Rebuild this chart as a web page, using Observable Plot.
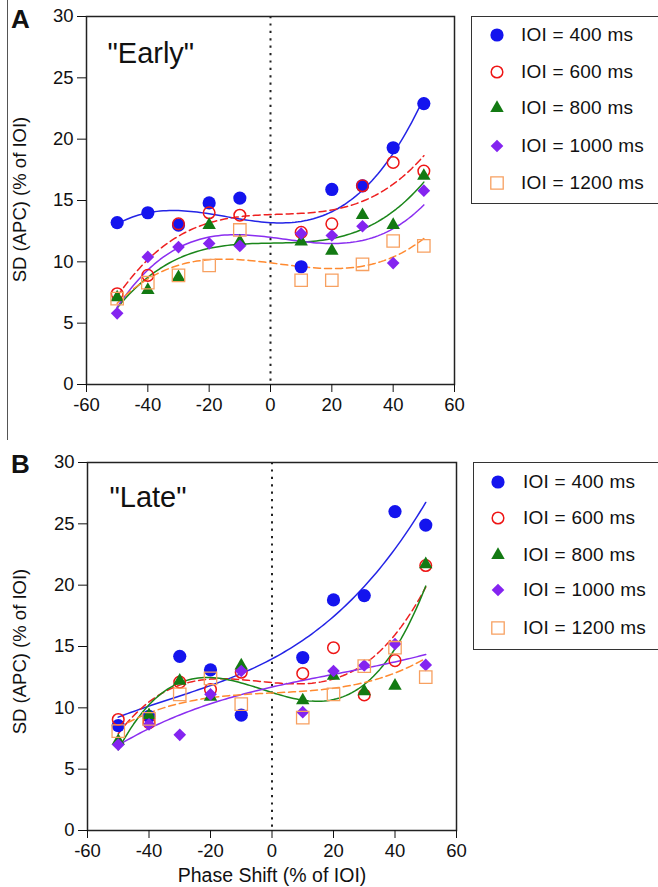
<!DOCTYPE html>
<html><head><meta charset="utf-8">
<script src="https://cdn.jsdelivr.net/npm/d3@7"></script>
<script src="https://cdn.jsdelivr.net/npm/@observablehq/plot@0.6"></script>
<style>
body{margin:0;background:#fff;font-family:"Liberation Sans",Arial,Helvetica,sans-serif;}
#page{position:relative;width:658px;height:887px;overflow:hidden;background:#fff;}
.panel{position:absolute;left:0;}
.letter{position:absolute;font-weight:bold;font-size:26px;color:#111;}
.legend{position:absolute;border:1.5px solid #333;background:#fff;box-sizing:border-box;}
.row{position:absolute;left:0;height:0;}
.row svg{position:absolute;overflow:visible;}
.row span{position:absolute;white-space:nowrap;font-size:19px;letter-spacing:0.25px;color:#111;transform:translateY(-52%);}
#sep{position:absolute;left:7px;top:0;width:1px;height:440px;background:#555;}
</style></head>
<body><div id="page"><div id="sep"></div></div>
<script>
// ---------- data ----------
const phaseShift = [-50, -40, -30, -20, -10, 10, 20, 30, 40, 50];
const ioiLabels = ["IOI = 400 ms", "IOI = 600 ms", "IOI = 800 ms", "IOI = 1000 ms", "IOI = 1200 ms"];
const xTicks = [-60, -40, -20, 0, 20, 40, 60];
const yTicks = [0, 5, 10, 15, 20, 25, 30];

// "Early" panel (A)
const earlyIOI400  = [13.2, 14.0, 13.0, 14.8, 15.2, 9.6, 15.9, 16.2, 19.3, 22.9];
const earlyIOI600  = [7.4, 8.9, 13.1, 14.0, 13.8, 12.4, 13.1, 16.2, 18.1, 17.4];
const earlyIOI800  = [7.1, 7.7, 8.75, 13.0, 11.65, 11.65, 10.9, 13.8, 13.0, 17.0];
const earlyIOI1000 = [5.8, 10.4, 11.2, 11.5, 11.3, 12.3, 12.15, 12.9, 9.9, 15.8];
const earlyIOI1200 = [7.0, 8.3, 8.9, 9.7, 12.6, 8.5, 8.5, 9.8, 11.7, 11.3];

// "Late" panel (B)
const lateIOI400  = [8.55, 9.3, 14.2, 13.1, 9.4, 14.1, 18.8, 19.15, 26.0, 24.9];
const lateIOI600  = [9.05, 8.8, 12.1, 11.5, 12.9, 12.8, 14.9, 11.05, 13.85, 21.6];
const lateIOI800  = [7.3, 9.4, 12.2, 10.9, 13.45, 10.6, 12.6, 11.35, 11.8, 21.7];
const lateIOI1000 = [7.0, 8.65, 7.8, 11.1, 13.0, 9.65, 13.0, 13.45, 15.2, 13.5];
const lateIOI1200 = [8.1, 9.1, 11.1, 12.4, 10.3, 9.2, 11.1, 13.4, 14.9, 12.5];

// ---------- styles ----------
const seriesStyle = [
  {symbol: "circle",   r: 6.6, fill: "#1414ee", stroke: "none", line: "#2424e6", dash: null},
  {symbol: "circle",   r: 5.8, fill: "none", stroke: "#ee1515", sw: 1.5, line: "#ee2020", dash: "7,4"},
  {symbol: "triangle", r: 5.0, fill: "#137a13", stroke: "none", line: "#1a861a", dash: null},
  {symbol: "diamond2", r: 5.7, fill: "#8424f0", stroke: "none", line: "#8a2ef0", dash: null},
  {symbol: "square",   r: 7.0, fill: "none", stroke: "#f7a060", sw: 1.3, line: "#ff8a30", dash: "7,4"}
];

// cubic least-squares fit computed from the data
function cubicFit(xs, ys) {
  const n = 4, M = Array.from({length: n}, () => Array(n + 1).fill(0));
  xs.forEach((x, i) => {
    const u = x / 50, p = [1, u, u * u, u * u * u];
    for (let r = 0; r < n; r++) { for (let c = 0; c < n; c++) M[r][c] += p[r] * p[c]; M[r][n] += p[r] * ys[i]; }
  });
  for (let i = 0; i < n; i++) {
    let m = i; for (let k = i + 1; k < n; k++) if (Math.abs(M[k][i]) > Math.abs(M[m][i])) m = k;
    [M[i], M[m]] = [M[m], M[i]];
    for (let k = i + 1; k < n; k++) { const f = M[k][i] / M[i][i]; for (let c = i; c <= n; c++) M[k][c] -= f * M[i][c]; }
  }
  const a = Array(n).fill(0);
  for (let i = n - 1; i >= 0; i--) { let s = M[i][n]; for (let c = i + 1; c < n; c++) s -= M[i][c] * a[c]; a[i] = s / M[i][i]; }
  return x => { const u = x / 50; return a[0] + a[1] * u + a[2] * u * u + a[3] * u * u * u; };
}

const font = "'Liberation Sans', Arial, Helvetica, sans-serif";

function panel(seriesList, title, opts) {
  const marks = [
    Plot.ruleX([0], {stroke: "#222", strokeWidth: 2, strokeDasharray: "2.2,5.2"})
  ];
  seriesList.forEach((vals, i) => {
    const st = seriesStyle[i];
    const f = cubicFit(phaseShift, vals);
    const fitPts = d3.range(-50, 50.001, 1).map(x => ({x, y: f(x)}));
    marks.push(Plot.line(fitPts, {x: "x", y: "y", stroke: st.line, strokeWidth: 1.5, strokeDasharray: st.dash, curve: "linear"}));
  });
  seriesList.forEach((vals, i) => {
    const st = seriesStyle[i];
    const pts = phaseShift.map((x, j) => ({x, y: vals[j]}));
    marks.push(Plot.dot(pts, {x: "x", y: "y", symbol: () => st.symbol, r: st.r, fill: st.fill, stroke: st.stroke, strokeWidth: st.sw || 0}));
  });
  marks.push(
    Plot.frame({stroke: "#222", strokeWidth: 1.5}),
    Plot.axisX({ticks: xTicks, tickSize: 8, tickPadding: 5, tickFormat: d => String(d), label: null, fontSize: 18.5}),
    Plot.axisY({ticks: yTicks, tickSize: 9, tickPadding: 4, label: null, fontSize: 18.5}),
    Plot.text([title], {frameAnchor: "top-left", text: d => d, textAnchor: "start", lineAnchor: "bottom", dx: opts.titleDx, dy: opts.titleDy, fontSize: 29, fill: "#111"}),
    Plot.text(["SD (APC) (% of IOI)"], {frameAnchor: "left", text: d => d, rotate: -90, textAnchor: "middle", lineAnchor: "middle", dx: opts.ylabDx, dy: opts.ylabDy, fontSize: 18.5, fill: "#111"})
  );
  if (opts.xlabel) {
    marks.push(Plot.text([opts.xlabel], {frameAnchor: "bottom", text: d => d, textAnchor: "middle", lineAnchor: "middle", dy: 45, fontSize: 19.5, fill: "#111"}));
  }
  return Plot.plot({
    width: 470, height: opts.height,
    marginLeft: opts.ml, marginRight: opts.mr, marginTop: opts.mt, marginBottom: opts.mb,
    x: {domain: [-60, 60]},
    y: {domain: [0, 30]},
    symbol: {type: "identity"},
    style: {fontFamily: font, fontSize: "18.5px", color: "#111", background: "transparent", overflow: "visible"},
    marks
  });
}

const page = document.getElementById("page");

function addPanel(svg, top) {
  svg.classList.add("panel");
  svg.style.top = top + "px";
  page.appendChild(svg);
}

addPanel(panel([earlyIOI400, earlyIOI600, earlyIOI800, earlyIOI1000, earlyIOI1200], "\"Early\"",
  {height: 440, ml: 86, mr: 16, mt: 16, mb: 56, titleDx: 21, titleDy: 46, ylabDx: -66, ylabDy: -1}), 0);
addPanel(panel([lateIOI400, lateIOI600, lateIOI800, lateIOI1000, lateIOI1200], "\"Late\"",
  {height: 447, ml: 87, mr: 14, mt: 22, mb: 57, titleDx: 22, titleDy: 44, ylabDx: -67, ylabDy: 5, xlabel: "Phase Shift (% of IOI)"}), 440);

// panel letters
[["A", 11, 4], ["B", 11, 449]].forEach(([t, l, tp]) => {
  const d = document.createElement("div");
  d.className = "letter"; d.textContent = t; d.style.left = l + "px"; d.style.top = tp + "px";
  page.appendChild(d);
});

// legends
function legend(left, top, rowYs, symX, textX) {
  const box = document.createElement("div");
  box.className = "legend";
  Object.assign(box.style, {left: left + "px", top: top + "px", width: "200px", height: "188px"});
  ioiLabels.forEach((lab, i) => {
    const st = seriesStyle[i];
    const row = document.createElement("div");
    row.className = "row"; row.style.top = rowYs[i] + "px";
    const sz = Math.PI * st.r * st.r;
    const symMap = {circle: d3.symbolCircle, triangle: d3.symbolTriangle, diamond2: d3.symbolDiamond2, square: d3.symbolSquare};
    const path = d3.symbol(symMap[st.symbol], sz)();
    row.innerHTML = `<svg width="1" height="1" style="left:${symX}px;top:0"><path d="${path}" fill="${st.fill}" stroke="${st.stroke}" stroke-width="${st.sw || 0}"></path></svg><span style="left:${textX}px">${lab}</span>`;
    box.appendChild(row);
  });
  page.appendChild(box);
}
legend(471, 16, [18, 55, 91, 129, 166], 25, 49);
legend(473, 462, [19, 55, 92, 127, 165], 24, 49);
</script>
</body></html>
